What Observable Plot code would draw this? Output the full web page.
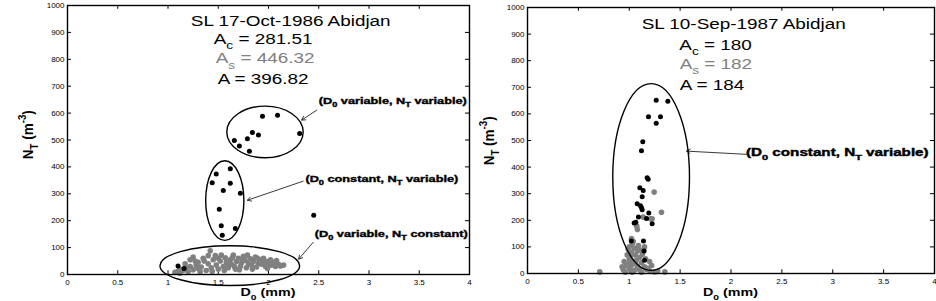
<!DOCTYPE html>
<html><head>
<meta charset="utf-8">
<script src="https://cdn.jsdelivr.net/npm/d3@7"></script>
<script src="https://cdn.jsdelivr.net/npm/@observablehq/plot@0.6"></script>
<style>
body{margin:0;background:#fff}
#wrap{position:relative;width:936px;height:301px;overflow:hidden;background:#fff}
.panel{position:absolute;top:0}
</style>
</head><body>
<div id="wrap"></div>
<script>
const xTicks = [0, 0.5, 1, 1.5, 2, 2.5, 3, 3.5, 4];
const yTicks = [0, 100, 200, 300, 400, 500, 600, 700, 800, 900, 1000];

// Left panel: SL 17-Oct-1986 Abidjan
const leftBlackD = [1.94,2.09,2.31,1.90,1.84,1.79,1.66,1.71,1.81, 1.48,1.62,1.44,1.62,1.55,1.72,1.51,1.53,1.67,1.54, 2.45, 1.10,1.16];
const leftBlackN = [588,592,524,519,528,505,498,478,458, 374,393,341,339,312,302,243,181,171,146, 220, 32,22];
const leftGrayD = [1.07,1.10,1.12,1.15,1.18,1.20,1.22,1.25,1.28,1.30,
  1.12,1.17,1.22,1.25,1.30,1.33,1.35,1.38,1.40,1.42,
  1.43,1.45,1.47,1.48,1.50,1.52,1.55,1.57,1.58,1.60,
  1.62,1.63,1.65,1.67,1.68,1.70,1.72,1.73,1.75,1.77,
  1.78,1.80,1.82,1.83,1.85,1.87,1.88,1.90,1.92,1.93,
  1.95,1.97,1.98,2.00,2.02,2.03,2.05,2.07,2.10,2.12,
  2.15,1.36,1.44,1.53,1.60,1.66,1.74,1.84,1.94,2.08,
  1.27,1.32,1.40,1.50,1.56,1.64,1.71,1.79,1.89,1.99];
const leftGrayN = [8,12,20,15,25,10,30,18,35,22,
  5,40,55,65,45,28,60,15,40,88,
  25,55,70,35,20,50,30,62,45,25,
  55,38,72,20,48,60,30,42,68,52,
  25,40,58,35,48,65,28,42,55,38,
  60,30,48,40,55,35,45,30,38,32,
  35,50,12,72,40,30,55,20,45,52,
  50,10,70,60,15,62,18,72,60,22];

// Right panel: SL 10-Sep-1987 Abidjan
const rightBlackD = [1.265,1.379,1.189,1.307,1.265,1.133,1.120,1.176,1.186,1.104,1.137,1.127,1.078,1.110,1.127,1.192,1.090,1.065,1.048,1.170,1.225,1.140,1.020,1.146,1.120,1.150];
const rightBlackN = [651,648,589,589,565,495,461,360,354,322,312,289,262,255,240,227,212,193,190,207,187,122,122,85,248,50];
const rightGrayD = [0.71,1.35,1.245,1.317,1.225,1.137,1.074,1.08,1.022,1.03,
  1.00,1.05,1.08,1.02,0.98,1.06,1.10,1.00,0.95,1.04,
  1.12,0.97,1.02,1.08,1.15,0.94,1.00,1.05,1.10,1.20,
  0.96,1.03,1.12,1.25,1.18,1.13,1.16,1.20,1.01,1.07,
  0.99,1.04,1.15,1.09,0.93,1.06,1.22,1.17,1.28,1.00,1.11,1.21];
const rightGrayN = [6,6,306,230,206,212,178,165,131,112,
  100,95,85,80,70,70,60,55,45,45,
  40,30,30,28,25,15,18,12,15,10,
  5,5,5,6,20,72,55,45,65,50,
  90,120,100,105,25,38,30,15,8,40,88,206];

const FONT = "'Liberation Sans', Arial, sans-serif";

function toRows(D, N) { return D.map((d, i) => ({D: d, N: N[i]})); }

function addText(svg, px, py, spec) {
  const t = svg.append("text")
    .attr("transform", spec.rotate
      ? `translate(${px},${py}) rotate(-90) scale(1,${spec.stretch})`
      : `translate(${px},${py}) scale(${spec.stretch},1)`)
    .attr("font-family", FONT)
    .attr("font-size", spec.size)
    .attr("font-weight", spec.weight || "normal")
    .attr("fill", spec.fill || "black")
    .attr("text-anchor", spec.anchor || "start");
  if (spec.heavy) t.attr("stroke", "black").attr("stroke-width", spec.heavy);
  let shift = 0;
  for (const [s, mode] of spec.parts) {
    const target = mode === "sub" ? spec.size * 0.35 : mode === "sup" ? -spec.size * 0.45 : 0;
    const ts = t.append("tspan").attr("dy", target - shift).text(s);
    if (mode !== "n") ts.attr("font-size", spec.size * 0.72);
    shift = target;
  }
}

function panel(cfg) {
  const black = toRows(cfg.blackD, cfg.blackN);
  const gray = toRows(cfg.grayD, cfg.grayN);
  const plot = Plot.plot({
    width: 470, height: 301,
    marginLeft: cfg.ml, marginRight: cfg.mr, marginTop: cfg.mt, marginBottom: cfg.mb,
    x: {domain: [0, 4]},
    y: {domain: [0, 1000]},
    style: {fontFamily: FONT, fontSize: "8px", background: "transparent", overflow: "visible", color: "black"},
    marks: [
      Plot.axisX({ticks: xTicks, tickSize: 0, tickPadding: 5, label: null, tickFormat: d => String(d), fontSize: 8}),
      Plot.axisY({ticks: yTicks, tickSize: 0, tickPadding: 3, label: null, tickFormat: d => String(d), fontSize: 8}),
      Plot.ruleX(xTicks, {x: d => d, y1: 0, y2: 14, stroke: "black", strokeWidth: 1}),
      Plot.ruleX(xTicks, {x: d => d, y1: 986, y2: 1000, stroke: "black", strokeWidth: 1}),
      Plot.ruleY(yTicks, {y: d => d, x1: 0, x2: 0.04, stroke: "black", strokeWidth: 1}),
      Plot.ruleY(yTicks, {y: d => d, x1: 3.96, x2: 4, stroke: "black", strokeWidth: 1}),
      Plot.dot(gray, {x: "D", y: "N", r: 2.8, fill: "#808080", stroke: "none"}),
      Plot.dot(black, {x: "D", y: "N", r: 2.5, fill: "black", stroke: "none"}),
      Plot.arrow(cfg.arrows, {x1: "x1", y1: "y1", x2: "x2", y2: "y2", stroke: "#222", strokeWidth: 0.9, headLength: 7}),
      Plot.frame({stroke: "black", strokeWidth: 1.4})
    ]
  });
  const sx = plot.scale("x"), sy = plot.scale("y");
  const X = v => sx.apply(v), Y = v => sy.apply(v);
  const svg = d3.select(plot);
  for (const e of cfg.ellipses) {
    svg.append("ellipse")
      .attr("cx", X(e.cx)).attr("cy", Y(e.cy))
      .attr("rx", Math.abs(X(e.cx + e.rx) - X(e.cx)))
      .attr("ry", Math.abs(Y(e.cy + e.ry) - Y(e.cy)))
      .attr("fill", "none").attr("stroke", "black").attr("stroke-width", 1.4);
  }
  for (const t of cfg.texts) addText(svg, X(t.x), Y(t.y), t);
  // axis titles
  addText(svg, X(2), 296, {parts: [["D", "n"], ["0", "sub"], [" (mm)", "n"]], size: 11, weight: "bold", anchor: "middle", stretch: 1.3});
  addText(svg, cfg.ylabX, Y(cfg.ylabN), {parts: [["N", "n"], ["T", "sub"], [" (m", "n"], ["-3", "sup"], [")", "n"]], size: 13.5, weight: "bold", anchor: "middle", stretch: 1.1, rotate: true});
  plot.setAttribute("class", "panel");
  plot.style.left = cfg.left + "px";
  document.getElementById("wrap").appendChild(plot);
}

const noteA = (a, b) => [["(D", "n"], ["0", "sub"], [" " + a + ", N", "n"], ["T", "sub"], [" " + b + ")", "n"]];

panel({
  left: 0, ml: 67, mr: 1, mt: 5, mb: 27,
  blackD: leftBlackD, blackN: leftBlackN, grayD: leftGrayD, grayN: leftGrayN,
  ellipses: [
    {cx: 1.97, cy: 528, rx: 0.38, ry: 96},
    {cx: 1.57, cy: 273, rx: 0.19, ry: 148},
    {cx: 1.62, cy: 31, rx: 0.695, ry: 74}
  ],
  arrows: [
    {x1: 2.48, y1: 611, x2: 2.33, y2: 574},
    {x1: 2.345, y1: 347, x2: 1.79, y2: 276},
    {x1: 2.445, y1: 120, x2: 2.30, y2: 57}
  ],
  texts: [
    {x: 2.226, y: 923, parts: [["SL 17-Oct-1986 Abidjan", "n"]], size: 15.5, anchor: "middle", stretch: 1.22},
    {x: 1.46, y: 856, parts: [["A", "n"], ["c", "sub"], [" = 281.51", "n"]], size: 15.5, stretch: 1.22},
    {x: 1.48, y: 784, parts: [["A", "n"], ["s", "sub"], [" = 446.32", "n"]], size: 15.5, stretch: 1.22, fill: "#808080"},
    {x: 1.50, y: 706, parts: [["A = 396.82", "n"]], size: 15.5, stretch: 1.22},
    {x: 2.505, y: 633, parts: noteA("variable", "variable"), size: 9.8, weight: "bold", stretch: 1.3, heavy: 0.4},
    {x: 2.372, y: 343, parts: noteA("constant", "variable"), size: 9.8, weight: "bold", stretch: 1.3, heavy: 0.4},
    {x: 2.465, y: 139, parts: noteA("variable", "constant"), size: 9.8, weight: "bold", stretch: 1.3, heavy: 0.4}
  ],
  ylabX: 33, ylabN: 518
});

panel({
  left: 466, ml: 61, mr: 2, mt: 7, mb: 28,
  blackD: rightBlackD, blackN: rightBlackN, grayD: rightGrayD, grayN: rightGrayN,
  ellipses: [
    {cx: 1.22, cy: 361, rx: 0.377, ry: 351}
  ],
  arrows: [
    {x1: 2.152, y1: 448, x2: 1.563, y2: 460}
  ],
  texts: [
    {x: 2.13, y: 919, parts: [["SL 10-Sep-1987 Abidjan", "n"]], size: 15.5, anchor: "middle", stretch: 1.22},
    {x: 1.497, y: 840, parts: [["A", "n"], ["c", "sub"], [" = 180", "n"]], size: 15.5, stretch: 1.22},
    {x: 1.50, y: 767, parts: [["A", "n"], ["s", "sub"], [" = 182", "n"]], size: 15.5, stretch: 1.22, fill: "#808080"},
    {x: 1.50, y: 688, parts: [["A = 184", "n"]], size: 15.5, stretch: 1.22},
    {x: 2.152, y: 440, parts: noteA("constant", "variable"), size: 10.5, weight: "bold", stretch: 1.45, heavy: 0.4}
  ],
  ylabX: 28, ylabN: 497
});
</script>
</body></html>
